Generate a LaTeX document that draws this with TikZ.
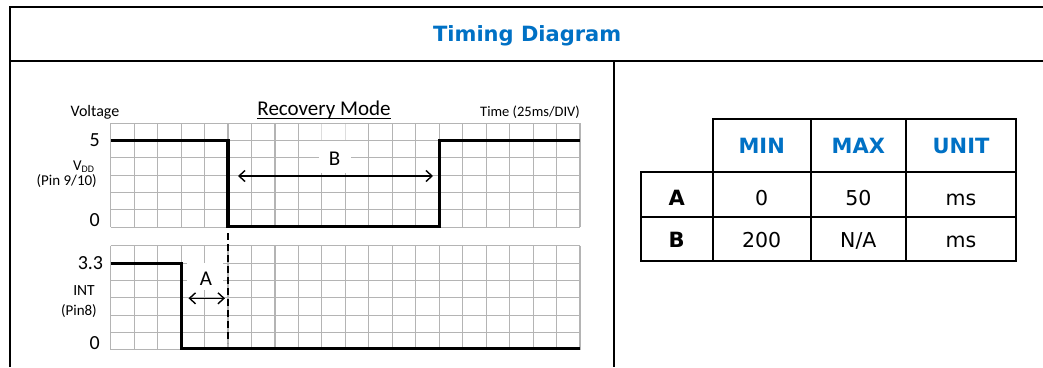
\documentclass[tikz,border=0pt]{standalone}
\usepackage{fontspec}
\setmainfont{Carlito}
\newfontfamily\verd{DejaVu Sans}
\usetikzlibrary{arrows.meta}
\definecolor{ttblue}{RGB}{0,113,197}
\definecolor{gridgray}{RGB}{180,180,180}
\begin{document}
\begin{tikzpicture}[x=1pt,y=-1pt,
  lab/.style={inner sep=0pt},
  fs/.style={font=\fontsize{#1}{#1}\selectfont},
  gridline/.style={draw=gridgray,line width=1.1pt},
  sig/.style={line width=3.2pt,line join=miter},
  frame/.style={line width=2.2pt},
  thinframe/.style={line width=1.6pt},
  tab/.style={line width=2pt},
  dim/.style={line width=1.4pt,{Straight Barb[length=6pt,width=11pt]}-{Straight Barb[length=6pt,width=11pt]}},
  hdr/.style={inner sep=0pt,anchor=base,font=\verd\bfseries\fontsize{21}{21}\selectfont,text=ttblue},
  rowh/.style={inner sep=0pt,anchor=base,font=\verd\bfseries\fontsize{21}{21}\selectfont},
  cell/.style={inner sep=0pt,anchor=base,font=\verd\fontsize{20.5}{20.5}\selectfont},
  mask/.style={fill=white,inner sep=0pt}
]
\useasboundingbox (0,0) rectangle (1043,367);
\fill[white] (0,0) rectangle (1043,367);

% frame
\draw[frame] (10,367) -- (10,6.8) -- (1043,6.8);
\draw[frame] (10,61) -- (1043,61);
\draw[thinframe] (614,61) -- (614,367);
\node[lab,anchor=base,font=\verd\bfseries\fontsize{21}{21}\selectfont,text=ttblue] (title) at (527.2,41) {Timing Diagram};

% grids
\foreach \i in {0,...,20} {
  \draw[gridline] ({110.7+\i*23.465},123.3) -- ({110.7+\i*23.465},227.1);
  \draw[gridline] ({110.7+\i*23.465},245.9) -- ({110.7+\i*23.465},349.7);
}
\foreach \j in {0,...,6} {
  \draw[gridline] (110.7,{123.3+\j*17.3}) -- (580,{123.3+\j*17.3});
  \draw[gridline] (110.7,{245.9+\j*17.3}) -- (580,{245.9+\j*17.3});
}
\fill[white,opacity=0.55] (319,124) rectangle (351,140);

% labels with white masks
\node[mask,minimum width=32pt,minimum height=32pt] (Bbox) at (335,157) {};
\node[lab,fs=21] (B) at (334.5,158.5) {B};
\node[mask,minimum width=36pt,minimum height=27pt] (Abox) at (204.5,276.5) {};
\node[lab,fs=21] (A) at (206,278.3) {A};

% signals
\draw[sig] (110.7,140.6) -- (228.0,140.6) -- (228.0,226.6) -- (439.3,226.6) -- (439.3,140.6) -- (580,140.6);
\draw[sig] (110.7,263.2) -- (181.1,263.2) -- (181.1,348.6) -- (580,348.6);

% dashed marker
\coordinate (dtop) at (228.3,233);
\coordinate (dbot) at (228.3,343);
\draw[line width=2pt,dash pattern=on 7pt off 4pt] (dtop) -- (dbot);

% dimension arrows
\coordinate (bL) at (238,176);
\coordinate (bR) at (433,176);
\draw[dim] (bL) -- (bR);
\coordinate (aL) at (188.5,298.3);
\coordinate (aR) at (225,298.3);
\draw[dim] (aL) -- (aR);

% axis labels
\node[lab,fs=16,anchor=base] (volt) at (95,116.7) {Voltage};
\node[lab,fs=21,anchor=base] (rm) at (324,115.7) {Recovery Mode};
\draw[line width=1pt] ([yshift=-2.6pt]rm.base west) -- ([yshift=-2.6pt]rm.base east);
\node[lab,fs=14.5,anchor=base east] (time) at (580,116.7) {Time (25ms/DIV)};
\node[lab,fs=20,anchor=base east] (v5) at (100,146.5) {5};
\node[lab,anchor=base west] (vdd) at (73,170.5) {\fontsize{15}{15}\selectfont V\raisebox{-2pt}{\fontsize{10}{10}\selectfont DD}};
\node[lab,fs=15,anchor=base east] (pin910) at (97,185) {(Pin 9/10)};
\node[lab,fs=20,anchor=base east] (v0a) at (100,226) {0};
\node[lab,fs=20,anchor=base east] (v33) at (103.3,269.3) {3.3};
\node[lab,fs=15.5,anchor=base] (int) at (84,295) {INT};
\node[lab,fs=15,anchor=base east] (pin8) at (97,315.5) {(Pin8)};
\node[lab,fs=20,anchor=base east] (v0b) at (100,349) {0};

% table
\draw[tab] (712.7,119) rectangle (1016,260.7);
\draw[tab] (640.7,172.3) rectangle (1016,260.7);
\draw[tab] (640.7,216.7) -- (1016,216.7);
\draw[tab] (810.7,119) -- (810.7,260.7);
\draw[tab] (906,119) -- (906,260.7);
\node[hdr] (hmin) at (761.7,153.3) {MIN};
\node[hdr] (hmax) at (858.3,153.3) {MAX};
\node[hdr] (hunit) at (961,153.3) {UNIT};
\node[rowh] (ra) at (676.7,205) {A};
\node[cell] (amin) at (761.7,205) {0};
\node[cell] (amax) at (858.3,205) {50};
\node[cell] (aunit) at (961,205) {ms};
\node[rowh] (rb) at (676.7,247.3) {B};
\node[cell] (bmin) at (761.7,247.3) {200};
\node[cell] (bmax) at (858.3,247.3) {N/A};
\node[cell] (bunit) at (961,247.3) {ms};
\end{tikzpicture}
\end{document}
